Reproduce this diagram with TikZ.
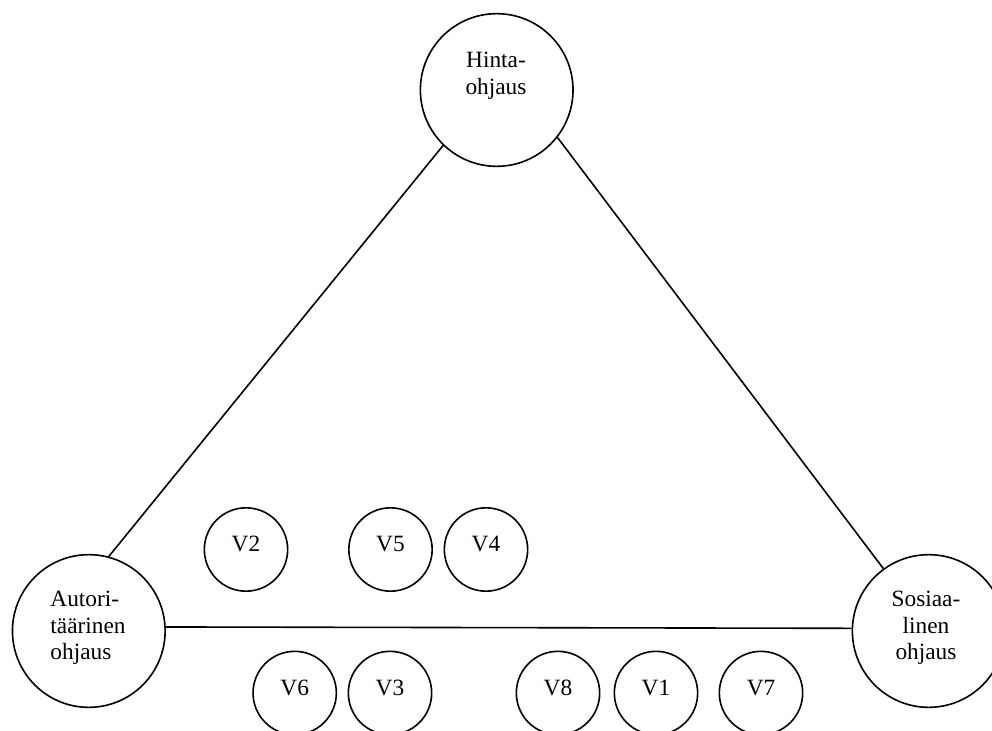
\documentclass[tikz,border=0pt]{standalone}
\usepackage{fontspec}
\setmainfont{Liberation Serif}
\begin{document}
\begin{tikzpicture}[x=0.75pt,y=-0.75pt, line width=1.2pt,
  bigcircle/.style={draw, circle, minimum size=114.5pt, inner sep=0pt},
  bigtext/.style={font=\fontsize{17.5}{20}\selectfont, inner sep=0pt},
  smallcircle/.style={draw, circle, minimum size=62.5pt, inner sep=0pt,
    font=\fontsize{17.5}{20}\selectfont, text height=12pt, text depth=9pt}]
  \useasboundingbox (0,0) rectangle (992,731);
  \clip (0,0) rectangle (992,731);

  % three main forms of steering
  \node[bigcircle] (hinta)  at (496.7,90) {};
  \node[bigcircle] (autori) at (88.8,631) {};
  \node[bigcircle] (sosiaa) at (928.7,631) {};

  \node[bigtext, align=center] (hinta-t) at (496,76) {Hinta-\\ohjaus};
  \node[bigtext, align=left] (autori-t) at (88,628) {Autori-\\täärinen\\ohjaus};
  \node[bigtext, align=center] (sosiaa-t) at (926,628) {Sosiaa-\\linen\\ohjaus};

  % triangle sides
  \draw (hinta.226.7) -- (autori.75.5);
  \draw (hinta.-38.7) -- (sosiaa.126.7);
  \draw (autori.3) -- (sosiaa.178.5);

  % cases placed inside the triangle
  \node[smallcircle] (v2) at (246,549.5) {V2};
  \node[smallcircle] (v5) at (390.5,549.5) {V5};
  \node[smallcircle] (v4) at (486,549.5) {V4};

  \node[smallcircle] (v6) at (294.7,693) {V6};
  \node[smallcircle] (v3) at (390,693) {V3};
  \node[smallcircle] (v8) at (558,693) {V8};
  \node[smallcircle] (v1) at (656,693) {V1};
  \node[smallcircle] (v7) at (761,693) {V7};
\end{tikzpicture}
\end{document}
